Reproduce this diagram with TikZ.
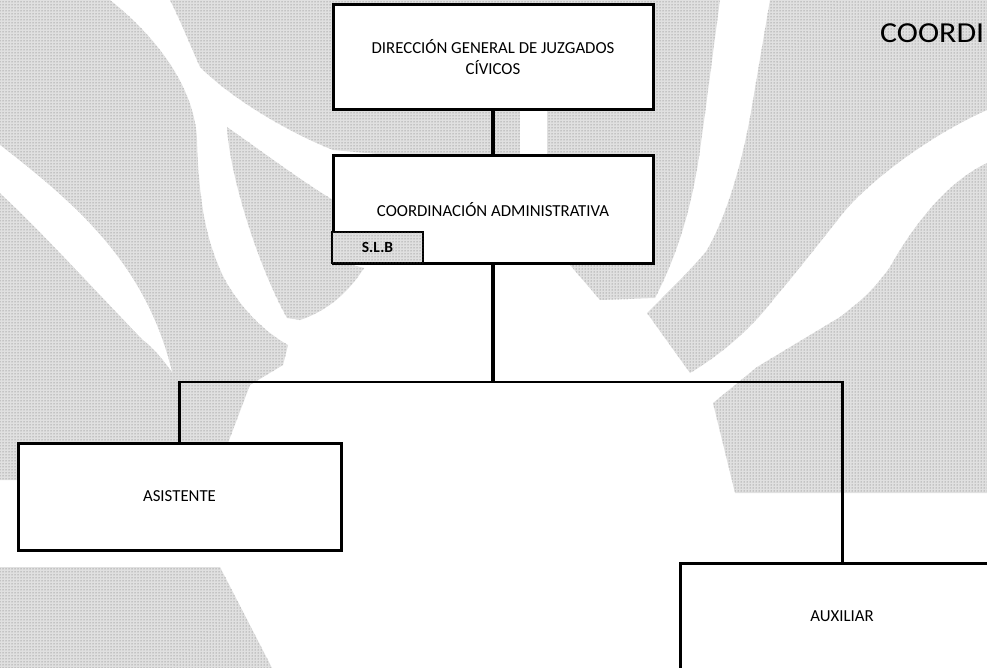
\documentclass[tikz,border=0pt]{standalone}
\usepackage{fontspec}
\setmainfont{Carlito}
\usetikzlibrary{patterns}
\begin{document}
\begin{tikzpicture}[x=1pt,y=-1pt,
  box/.style={draw, line width=3pt, fill=white, inner sep=0pt, align=center,
    font=\fontsize{16.8}{21}\selectfont},
  stip/.style={fill=black!12, postaction={pattern=dots, pattern color=black!60}},
  tagbox/.style={draw, line width=2pt, inner sep=0pt, align=center, stip,
    font=\fontsize{15.5}{18}\selectfont\bfseries},
  conn/.style={line width=3pt},
  thick conn/.style={line width=4pt},
  title/.style={inner sep=0pt, font=\fontsize{29}{32}\selectfont, xscale=1.1}]
\useasboundingbox (0,0) rectangle (987,668);
\fill[white] (0,0) rectangle (987,668);
\clip (0,0) rectangle (987,668);
% stippled background: left region with a tapering white stripe
\fill[stip] (0,0) -- (110,0) .. controls (160,40) and (195,90) .. (197,140)
  .. controls (199,200) and (205,240) .. (225,280) .. controls (245,315) and (270,335) .. (288,345)
  -- (283,365) -- (250,385) -- (228,443) -- (225,480) -- (0,480) -- cycle;
\fill[white] (0,145) .. controls (70,200) and (145,260) .. (172,372)
  .. controls (160,355) and (150,345) .. (143,340) .. controls (90,285) and (40,230) .. (0,193) -- cycle;
% bottom-left
\fill[stip] (0,567) -- (220,567) -- (272,668) -- (0,668) -- cycle;
% upper middle
\fill[stip] (170,0) -- (720,0) .. controls (712,60) and (707,100) .. (700,150)
  .. controls (693,200) and (680,250) .. (655,298) -- (600,300) -- (570,265)
  -- (400,250) -- (400,156) -- (333,150)
  .. controls (290,133) and (233,100) .. (200,67) .. controls (188,40) and (180,20) .. (170,0) -- cycle;
% tongue left of the boxes
\fill[stip] (227,127) .. controls (260,150) and (300,180) .. (333,200) -- (345,263) -- (364,268)
  .. controls (350,290) and (330,310) .. (300,320) -- (287,318)
  .. controls (255,260) and (229,170) .. (227,127) -- cycle;
\fill[white] (520,110) rectangle (547,156);
% upper right
\fill[stip] (770,0) -- (987,0) -- (987,110) .. controls (920,140) and (860,190) .. (840,217)
  .. controls (810,255) and (790,280) .. (773,300) .. controls (750,330) and (720,355) .. (690,373)
  -- (647,313) .. controls (680,280) and (700,260) .. (707,250)
  .. controls (730,210) and (745,150) .. (753,100) -- cycle;
% lower right
\fill[stip] (987,163) .. controls (940,185) and (905,240) .. (890,267)
  .. controls (870,295) and (855,305) .. (840,317) -- (757,367) -- (713,403)
  -- (735,493) -- (987,493) -- cycle;
% title
\node[title, anchor=base west] (ttl) at (880,43) {COORDI};
% boxes
\node[box, minimum width=320, minimum height=105] (dir) at (493,57.5)
  {DIRECCIÓN GENERAL DE JUZGADOS\\CÍVICOS};
\node[box, minimum width=320, minimum height=107] (coord) at (493,209.5)
  {COORDINACIÓN ADMINISTRATIVA};
\node[tagbox, minimum width=91, minimum height=31, anchor=south west,
  xshift=-0.5pt, yshift=0.5pt] (slb) at (coord.south west) {S.L.B};
\node[box, minimum width=323, minimum height=107] (asis) at (179.5,496.5) {ASISTENTE};
\node[box, minimum width=324, minimum height=107] (aux) at (842,616.5) {AUXILIAR};
% connectors
\coordinate (hub) at (493,382);
\coordinate (hl) at (179.5,382);
\coordinate (hr) at (842,382);
\draw[thick conn] (dir.south) -- (coord.north);
\draw[thick conn] (coord.south) -- (hub);
\draw[line width=2.5pt] ([xshift=-1.5pt]hl) -- ([xshift=1.5pt]hr);
\draw[conn] (hl) -- (asis.north);
\draw[conn] (hr) -- (aux.north);
\end{tikzpicture}
\end{document}
